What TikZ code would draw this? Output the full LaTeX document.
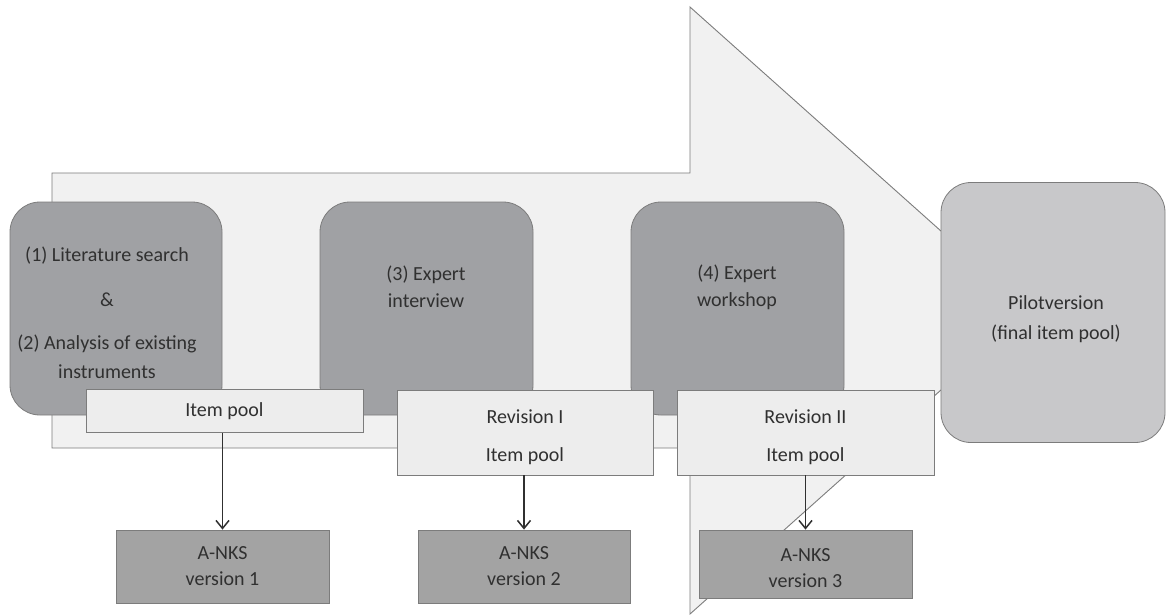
\documentclass[tikz,border=0pt]{standalone}
\usepackage{fontspec}
\setmainfont{Carlito}
\usetikzlibrary{arrows.meta}
\definecolor{bigarrow}{HTML}{F1F1F1}
\definecolor{edge}{HTML}{7C7C7C}
\definecolor{stepfill}{HTML}{A0A1A4}
\definecolor{pilotfill}{HTML}{C8C8CA}
\definecolor{poolfill}{HTML}{EDEDED}
\definecolor{versfill}{HTML}{A3A3A3}
\definecolor{txt}{HTML}{303030}
\tikzset{
  bigshape/.style={fill=bigarrow, draw=edge, line width=0.9pt},
  stepbox/.style={rectangle, rounded corners=30pt, fill=stepfill, draw=edge, line width=0.8pt, inner sep=0pt},
  pilotbox/.style={rectangle, rounded corners=30pt, fill=pilotfill, draw=edge, line width=0.8pt, inner sep=0pt},
  poolbox/.style={rectangle, fill=poolfill, draw=edge, line width=0.8pt, inner sep=0pt, text=txt, align=center, font=\fontsize{20}{28}\selectfont},
  versbox/.style={rectangle, fill=versfill, draw=edge, line width=0.8pt, inner sep=0pt, text=txt, align=center, font=\fontsize{20}{26}\selectfont},
  label/.style={text=txt, align=center, inner sep=0pt, font=\fontsize{20}{27}\selectfont},
  flow/.style={draw=txt, line width=1.5pt, -{Straight Barb[length=8pt,width=13pt,line width=1.5pt]}}
}
\begin{document}
\begin{tikzpicture}[x=1pt,y=-1pt]
\useasboundingbox[fill=white] (0,0) rectangle (1166,614);
% big background arrow
\draw[bigshape] (52,173) -- (690,173) -- (690,7) -- (1030,310.5) -- (690,614) -- (690,448) -- (52,448) -- cycle;
% step boxes
\node[stepbox, minimum width=212pt, minimum height=213pt] (b1) at (116,308.5) {};
\node[stepbox, minimum width=213pt, minimum height=213pt] (b2) at (426.5,308.5) {};
\node[stepbox, minimum width=213pt, minimum height=213pt] (b3) at (737.5,308.5) {};
\node[label, font=\fontsize{20}{29}\selectfont] (t1) at (107,313) {(1) Literature search\\[16pt]\&\\[14pt](2) Analysis of existing\\instruments};
\node[label] (t2) at (426,287) {(3) Expert\\interview};
\node[label] (t3) at (737,287) {(4) Expert\\workshop};
% pilot
\node[pilotbox, minimum width=224pt, minimum height=260pt] (pilot) at (1053,312.5) {};
\node[label, font=\fontsize{20}{30}\selectfont] (tp) at (1056,319) {Pilotversion\\(final item pool)};
% pool boxes
\node[poolbox, minimum width=277pt, minimum height=43pt] (ip1) at (224.5,411) {Item pool};
\node[poolbox, minimum width=256pt, minimum height=85pt] (rev1) at (525,432.5) {};
\node[poolbox, minimum width=257pt, minimum height=85pt] (rev2) at (805.5,432.5) {};
\node[label, font=\fontsize{20}{38}\selectfont] (tr1) at (525,437) {Revision I\\Item pool};
\node[label, font=\fontsize{20}{38}\selectfont] (tr2) at (805.5,437) {Revision II\\Item pool};
% version boxes
\node[versbox, minimum width=213pt, minimum height=73pt] (a1) at (222.5,566.5) {A-NKS\\version 1};
\node[versbox, minimum width=212pt, minimum height=73pt] (a2) at (524,566.5) {A-NKS\\version 2};
\node[versbox, minimum width=213pt, minimum height=68pt] (a3) at (805.5,564) {};
\node[label, font=\fontsize{20}{26}\selectfont] (ta3) at (805.5,568) {A-NKS\\version 3};
% arrows
\draw[flow] (ip1.south -| a1.north) -- (a1.north);
\draw[flow] (rev1.south -| a2.north) -- (a2.north);
\draw[flow] (rev2.south -| a3.north) -- (a3.north);
\end{tikzpicture}
\end{document}
